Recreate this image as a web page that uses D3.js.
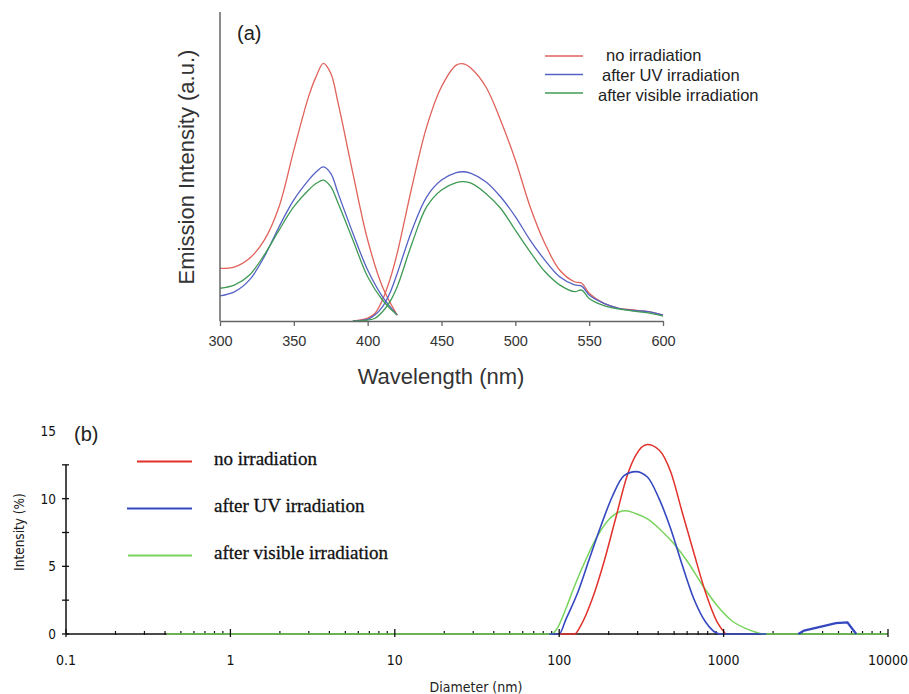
<!DOCTYPE html>
<html>
<head>
<meta charset="utf-8">
<script src="https://cdn.jsdelivr.net/npm/d3@7"></script>
<style>
  body { margin: 0; background: #fff; }
  svg { display: block; font-family: Arial, "Liberation Sans", sans-serif; }
</style>
</head>
<body>
<svg id="chart" width="909" height="694"></svg>
<script>
// ---- panel (a): emission spectra ----
var seriesNames = ["no irradiation", "after UV irradiation", "after visible irradiation"];

// first band, 300-420 nm
var wlLeft = [300, 310, 320, 330, 340, 350, 360, 365, 370, 375, 380, 390, 400, 410, 420];
var redLeft = [17.0, 17.5, 20.3, 26.2, 37.0, 55.3, 72.6, 79.0, 83.4, 80.2, 70.5, 47.8, 26.2, 11.1, 1.9];
var blueLeft = [8.1, 9.5, 13.3, 20.8, 30.5, 39.2, 45.6, 48.2, 49.9, 47.8, 41.3, 28.4, 16.5, 7.9, 1.9];
var greenLeft = [10.6, 11.7, 14.9, 21.4, 29.4, 37.0, 42.4, 44.5, 45.6, 43.5, 38.1, 26.2, 14.3, 6.8, 1.9];

// second band, 390-600 nm
var wlRight = [390, 400, 405, 410, 415, 420, 430, 440, 450, 460, 465, 470, 480, 490, 500, 510, 520, 530, 540, 545, 550, 560, 570, 580, 590, 600];
var redRight = [0, 0.9, 2.5, 6.8, 13.3, 21.9, 43.5, 62.9, 75.8, 82.8, 83.2, 81.8, 75.8, 65.0, 52.1, 37.0, 25.1, 16.5, 12.7, 12.2, 9.0, 5.7, 4.1, 3.6, 3.0, 1.9];
var blueRight = [0, 0.5, 2.0, 4.6, 9.0, 15.4, 29.4, 40.2, 45.6, 48.0, 48.3, 47.8, 45.1, 40.2, 33.8, 26.2, 19.7, 14.3, 11.7, 11.3, 8.4, 5.7, 4.1, 3.4, 3.0, 1.9];
var greenRight = [0, 0.3, 0.9, 3.0, 6.2, 11.1, 25.1, 37.0, 42.4, 44.8, 45.1, 44.6, 41.3, 36.5, 29.4, 22.4, 16.0, 11.7, 9.5, 10.0, 7.3, 5.0, 3.9, 3.2, 2.6, 1.6];

var wlTicks = [300, 350, 400, 450, 500, 550, 600];

// ---- panel (b): size distribution ----
var redDiam = [100, 124.5, 135, 159, 187, 220, 259, 292, 344, 405, 476, 560, 659, 775, 912, 1030];
var redPct = [0, 0, 0.6, 2.6, 5.3, 8.5, 11.7, 13.2, 14.0, 13.6, 12.0, 9.0, 6.0, 3.1, 0.9, 0];

var blueDiam = [87, 100, 110, 130, 153, 179.5, 211, 248, 292, 344, 405, 476, 560, 659, 775, 949, 1820];
var bluePct = [0, 0, 1.1, 3.1, 5.6, 8.0, 10.2, 11.7, 12.0, 11.6, 10.0, 7.8, 5.1, 2.6, 0.9, 0, 0];
var blueDiam2 = [2845, 3085, 3480, 4100, 4820, 5670, 6410];
var bluePct2 = [0, 0.25, 0.4, 0.6, 0.8, 0.85, 0];

var greenDiam = [0.41, 90, 97, 110, 124.5, 146.5, 172, 202, 229, 255, 292, 344, 405, 496, 607, 744, 912, 1117, 1371, 1820, 10000];
var greenPct = [0, 0, 0.4, 1.9, 3.6, 5.6, 7.3, 8.5, 9.0, 9.1, 8.9, 8.5, 7.8, 6.7, 5.3, 3.6, 2.1, 1.0, 0.4, 0, 0];

var diamTicks = [0.1, 1, 10, 100, 1000, 10000];
var pctTicks = [0, 2.5, 5, 7.5, 10, 12.5];
var pctLabels = [0, 5, 10, 15];

var svg = d3.select("#chart");
var narrow = "'DejaVu Sans Condensed', 'Liberation Sans Narrow', Arial, sans-serif";

function zip(xs, ys) {
    return xs.map(function (x, i) { return [x, ys[i]]; });
}

//////////////// panel (a)
var colA = { red: "#e0625a", blue: "#5561c4", green: "#3f9a55" };

var xA = d3.scaleLinear().domain([300, 600]).range([220, 663]);
var yA = d3.scaleLinear().domain([0, 100]).range([321, 12]);

var gA = svg.append("g");

var lineA = d3.line()
    .x(function (d) { return xA(d[0]); })
    .y(function (d) { return yA(d[1]); })
    .curve(d3.curveCatmullRom.alpha(0.5));

var specs = [
    [wlLeft, redLeft, colA.red], [wlRight, redRight, colA.red],
    [wlLeft, blueLeft, colA.blue], [wlRight, blueRight, colA.blue],
    [wlLeft, greenLeft, colA.green], [wlRight, greenRight, colA.green]
];
specs.forEach(function (s) {
    gA.append("path")
        .datum(zip(s[0], s[1]))
        .attr("d", lineA)
        .attr("fill", "none")
        .attr("stroke", s[2])
        .attr("stroke-width", 1.3);
});

// axes
gA.append("line")
    .attr("x1", 220).attr("x2", 220)
    .attr("y1", yA(100)).attr("y2", yA(0))
    .attr("stroke", "#666").attr("stroke-width", 1.5);

var axA = gA.append("g")
    .attr("transform", "translate(0," + yA(0) + ")")
    .call(d3.axisBottom(xA).tickValues(wlTicks).tickSize(5).tickSizeOuter(0).tickPadding(10));
axA.select(".domain").attr("stroke", "#666").attr("stroke-width", 1.5);
axA.selectAll(".tick line").attr("stroke", "#666").attr("stroke-width", 1.3);
axA.selectAll(".tick text")
    .attr("font-size", 14.5).attr("fill", "#333")
    .attr("font-family", "Arial, 'Liberation Sans', sans-serif");

gA.append("text")
    .attr("x", 441).attr("y", 384)
    .attr("text-anchor", "middle")
    .attr("font-size", 22).attr("fill", "#333")
    .text("Wavelength (nm)");

gA.append("text")
    .attr("transform", "translate(194,167) rotate(-90)")
    .attr("text-anchor", "middle")
    .attr("font-size", 22).attr("fill", "#333")
    .text("Emission Intensity (a.u.)");

gA.append("text")
    .attr("x", 237).attr("y", 40)
    .attr("font-size", 20).attr("fill", "#222")
    .text("(a)");

// legend (a)
var legA = [colA.red, colA.blue, colA.green];
var legAx = [606, 602, 598];
legA.forEach(function (c, i) {
    var yy = 56 + i * 18.5;
    gA.append("line")
        .attr("x1", 545).attr("x2", 583)
        .attr("y1", yy).attr("y2", yy)
        .attr("stroke", c).attr("stroke-width", 1.3);
    gA.append("text")
        .attr("x", legAx[i]).attr("y", yy + 5 + i * 1.5)
        .attr("font-size", 16.5).attr("fill", "#222")
        .text(seriesNames[i]);
});

//////////////// panel (b)
var colB = { red: "#e2312b", blue: "#3548c0", green: "#78d45c" };

var xB = d3.scaleLog().domain([0.1, 10000]).range([66, 888]);
var yB = d3.scaleLinear().domain([0, 15]).range([634, 431]);

var gB = svg.append("g");

// x axis line (black) drawn first, data sits on top
gB.append("line")
    .attr("x1", xB(0.1)).attr("x2", xB(10000))
    .attr("y1", yB(0)).attr("y2", yB(0))
    .attr("stroke", "#111").attr("stroke-width", 1.5);

// minor ticks crossing the axis
var minor = [];
for (var e = -1; e < 4; e++) {
    for (var m = 2; m < 10; m++) minor.push(m * Math.pow(10, e));
}
gB.selectAll(".minorTick").data(minor).enter().append("line")
    .attr("class", "minorTick")
    .attr("x1", function (d) { return xB(d); }).attr("x2", function (d) { return xB(d); })
    .attr("y1", yB(0) - 3).attr("y2", yB(0) + 1)
    .attr("stroke", "#111").attr("stroke-width", 1.2);

var lineB = d3.line()
    .x(function (d) { return xB(d[0]); })
    .y(function (d) { return yB(d[1]); })
    .curve(d3.curveMonotoneX);

gB.append("path").datum(zip(greenDiam, greenPct)).attr("d", lineB)
    .attr("fill", "none").attr("stroke", colB.green).attr("stroke-width", 1.5);
gB.append("path").datum(zip(redDiam, redPct)).attr("d", lineB)
    .attr("fill", "none").attr("stroke", colB.red).attr("stroke-width", 1.5);
gB.append("path").datum(zip(blueDiam, bluePct)).attr("d", lineB)
    .attr("fill", "none").attr("stroke", colB.blue).attr("stroke-width", 1.6);
gB.append("path").datum(zip(blueDiam2, bluePct2)).attr("d", d3.line()
        .x(function (d) { return xB(d[0]); })
        .y(function (d) { return yB(d[1]); }))
    .attr("fill", "none").attr("stroke", colB.blue).attr("stroke-width", 2.2);

gB.selectAll(".majorTick").data(diamTicks).enter().append("line")
    .attr("class", "majorTick")
    .attr("x1", function (d) { return xB(d); }).attr("x2", function (d) { return xB(d); })
    .attr("y1", yB(0) - 5).attr("y2", yB(0) + 3)
    .attr("stroke", "#111").attr("stroke-width", 1.3);

gB.selectAll(".xLab").data(diamTicks).enter().append("text")
    .attr("class", "xLab")
    .attr("x", function (d) { return xB(d); })
    .attr("y", 665)
    .attr("text-anchor", "middle")
    .attr("font-family", narrow)
    .attr("font-size", 14).attr("fill", "#111")
    .text(function (d) { return d3.format("")(d); });

// y axis
gB.append("line")
    .attr("x1", 66).attr("x2", 66)
    .attr("y1", yB(12.5)).attr("y2", yB(0))
    .attr("stroke", "#111").attr("stroke-width", 1.5);
gB.selectAll(".yTick").data(pctTicks).enter().append("line")
    .attr("x1", 62).attr("x2", 69)
    .attr("y1", function (d) { return yB(d); }).attr("y2", function (d) { return yB(d); })
    .attr("stroke", "#111").attr("stroke-width", 1.3);
gB.selectAll(".yLab").data(pctLabels).enter().append("text")
    .attr("x", 56)
    .attr("y", function (d) { return yB(d) + 5; })
    .attr("text-anchor", "end")
    .attr("font-family", narrow)
    .attr("font-size", 13.5).attr("fill", "#111")
    .text(function (d) { return d; });

gB.append("text")
    .attr("x", 476).attr("y", 692)
    .attr("text-anchor", "middle")
    .attr("font-family", narrow)
    .attr("font-size", 14).attr("fill", "#222")
    .text("Diameter (nm)");

gB.append("text")
    .attr("transform", "translate(24,532) rotate(-90)")
    .attr("text-anchor", "middle")
    .attr("font-family", narrow)
    .attr("font-size", 13.5).attr("fill", "#222")
    .text("Intensity (%)");

gB.append("text")
    .attr("x", 74).attr("y", 441)
    .attr("font-size", 20).attr("fill", "#222")
    .text("(b)");

// legend (b)
var legB = [colB.red, colB.blue, colB.green];
var legBx1 = [137, 127, 128];
legB.forEach(function (c, i) {
    var yy = 461.5 + i * 47;
    gB.append("line")
        .attr("x1", legBx1[i]).attr("x2", 192)
        .attr("y1", yy).attr("y2", yy)
        .attr("stroke", c).attr("stroke-width", 2);
    gB.append("text")
        .attr("x", 214).attr("y", yy + 3)
        .attr("font-family", "'Liberation Serif', 'Times New Roman', serif")
        .attr("font-size", 19).attr("fill", "#111")
        .attr("stroke", "#111").attr("stroke-width", 0.3)
        .text(seriesNames[i]);
});
</script>
</body>
</html>
